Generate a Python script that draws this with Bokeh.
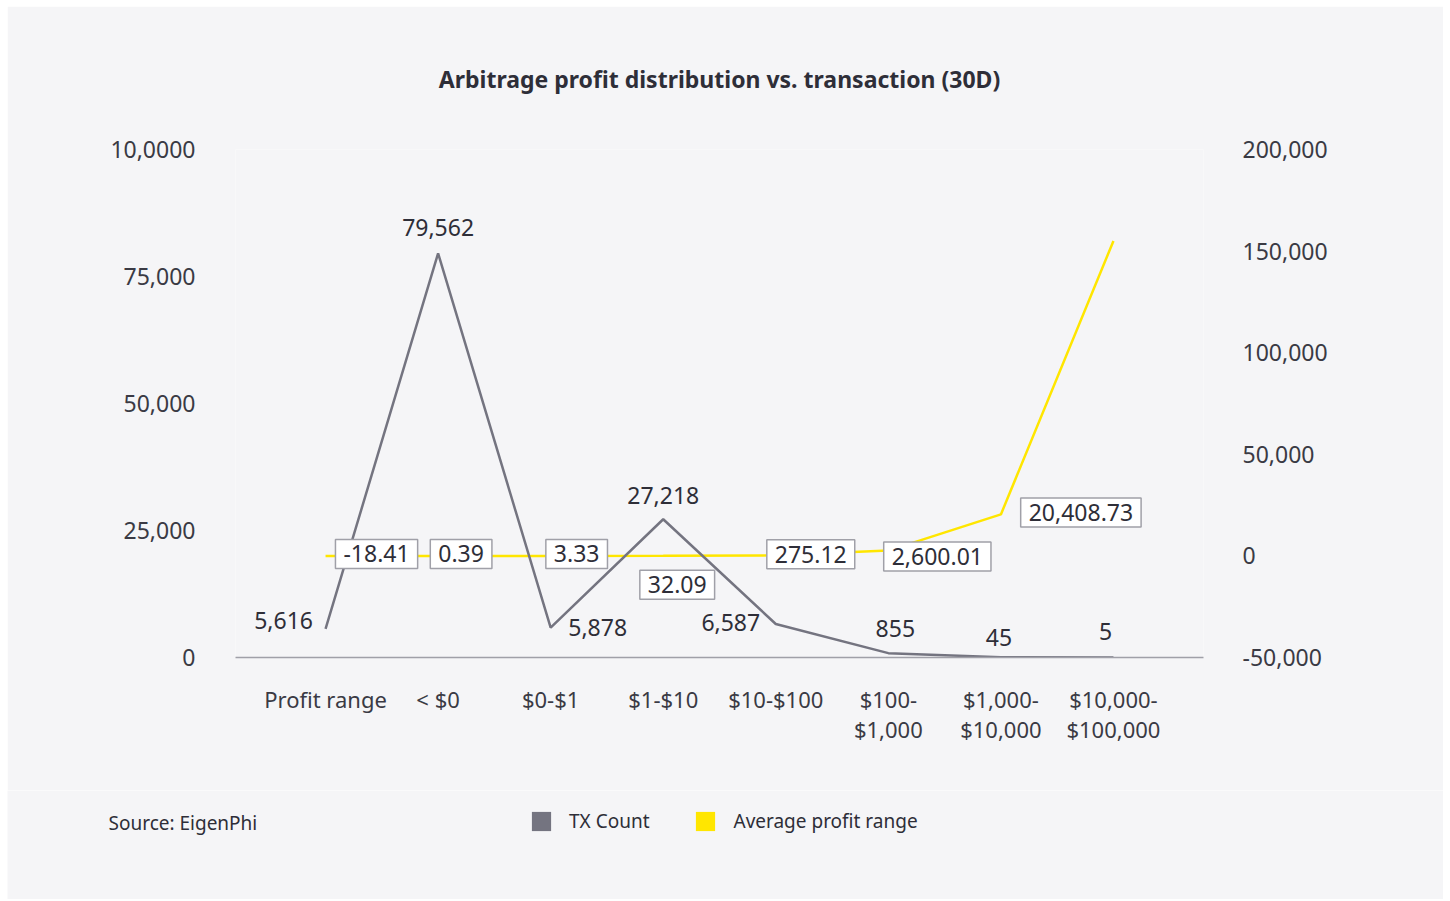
from bokeh.plotting import figure
from bokeh.models import (ColumnDataSource, FactorRange, Range1d, LinearAxis, FixedTicker,
                          NumeralTickFormatter, Label, Legend, LegendItem, Title)
from bokeh.embed import file_html
from bokeh.resources import INLINE
from bokeh.core.properties import value

# ---------------- data ----------------
categories = ["Profit range", "< $0", "$0-$1", "$1-$10", "$10-$100",
              "$100-\n$1,000", "$1,000-\n$10,000", "$10,000-\n$100,000"]
tx_count = [5616, 79562, 5878, 27218, 6587, 855, 45, 5]
avg_profit = [-18.41, 0.39, 3.33, 32.09, 275.12, 2600.01, 20408.73, 155000]
avg_profit_text = ["-18.41", "0.39", "3.33", "32.09", "275.12", "2,600.01", "20,408.73"]
left_ticks = [0, 25000, 50000, 75000, 100000]
right_ticks = [-50000, 0, 50000, 100000, 150000, 200000]
series_names = ["TX Count", "Average profit range"]

# ---------------- style ----------------
FONT = "Noto Sans"
BG = "#f5f5f7"
GREY = "#747480"
YELLOW = "#ffe600"
TEXT = "#2e2e38"
AXIS_TXT = "#3a3a44"

# label offsets (pixels) - layout only
tx_dx = [-42, 0, 47, 0, -45, 7, -2, -8]
tx_dy = [-8, -26, 0, -24, -2, -25, -20, -26]
ap_dx = [51, 23, 26, 14, 35, 49, 80]
ap_dy = [-2, -2, -2, 29, -1, 6, -2]

p = figure(x_range=FactorRange(factors=categories, range_padding=0.075),
           y_range=Range1d(0, 100000),
           width=1436, height=784, margin=(6, 7, 0, 7),
           output_backend="svg", toolbar_location=None,
           min_border_left=228, min_border_right=240,
           min_border_top=143, min_border_bottom=133,
           background_fill_color=BG, border_fill_color=BG,
           outline_line_color=None)
p.extra_y_ranges = {"profit": Range1d(-50000, 200000)}
p.xgrid.visible = False
p.ygrid.visible = False

p.title.text = "Arbitrage profit distribution vs. transaction (30D)"
p.title.align = "center"
p.title.text_font = FONT
p.title.text_font_size = "23px"
p.title.text_font_style = "bold"
p.title.text_color = TEXT
if "standoff" in Title.properties():
    p.title.standoff = 109

# left axis
ya = p.yaxis[0]
ya.ticker = FixedTicker(ticks=left_ticks)
ya.formatter = NumeralTickFormatter(format="0,0")
ya.major_label_overrides = {100000: "10,0000"}
ya.axis_line_color = None
ya.major_tick_line_color = None
ya.minor_tick_line_color = None
ya.major_label_standoff = 34
ya.major_label_text_font = FONT
ya.major_label_text_font_size = "23px"
ya.major_label_text_color = AXIS_TXT

# right axis
ra = LinearAxis(y_range_name="profit", ticker=FixedTicker(ticks=right_ticks),
                formatter=NumeralTickFormatter(format="0,0"),
                axis_line_color=None, major_tick_line_color=None,
                minor_tick_line_color=None, major_label_standoff=33,
                major_label_text_font=FONT, major_label_text_font_size="23px",
                major_label_text_color=AXIS_TXT)
p.add_layout(ra, "right")

# x axis
xa = p.xaxis[0]
xa.axis_line_color = "#a0a0a8"
xa.axis_line_width = 1.5
xa.major_tick_line_color = None
xa.minor_tick_line_color = None
xa.major_label_standoff = 20
xa.major_label_text_font = FONT
xa.major_label_text_font_size = "22px"
xa.major_label_text_color = AXIS_TXT
xa.major_label_text_line_height = 1.0

# lines
p.line(categories, avg_profit, y_range_name="profit", line_color=YELLOW, line_width=2.5)
p.line(categories, tx_count, line_color=GREY, line_width=2.5)

# TX labels
tx_src = ColumnDataSource(dict(x=categories, y=tx_count,
                               t=[f"{v:,}" for v in tx_count], dx=tx_dx, dy=tx_dy))
p.text(x="x", y="y", text="t", x_offset="dx", y_offset="dy", source=tx_src,
       text_align="center", text_baseline="middle", text_font=value(FONT),
       text_font_size="23px", text_color=TEXT)

# avg profit labels (boxed)
ap_src = ColumnDataSource(dict(x=categories[:7], y=avg_profit[:7], t=avg_profit_text,
                               dx=ap_dx, dy=ap_dy))
p.text(x="x", y="y", text="t", x_offset="dx", y_offset="dy", source=ap_src,
       y_range_name="profit",
       text_align="center", text_baseline="middle", text_font=value(FONT),
       text_font_size="23px", text_color=TEXT,
       background_fill_color="white", border_line_color="#a0a0a8", border_line_width=1.5,
       padding=(8, 6))

# ---------------- footer strip: source + legend (separate root) ----------------
f = figure(width=1436, height=109, margin=(0, 7, 2, 7),
           x_range=Range1d(0, 1), y_range=Range1d(0, 1),
           x_axis_location=None, y_axis_location=None,
           output_backend="svg", toolbar_location=None,
           min_border=0, background_fill_color=BG,
           border_fill_color=BG, outline_line_color=None)
f.grid.visible = False
f.add_layout(Label(x=101, y=77, x_units="screen", y_units="screen",
                   text="Source: EigenPhi", text_align="left", text_baseline="middle",
                   text_font=FONT, text_font_size="19px", text_color=TEXT))
# legend swatches (zero-size proxies, only their legend glyph is shown)
r1 = f.quad(left=[0], right=[0], top=[0], bottom=[0], fill_color=GREY, line_color=None)
r2 = f.quad(left=[0], right=[0], top=[0], bottom=[0], fill_color=YELLOW, line_color=None)
legend = Legend(items=[LegendItem(label=series_names[0], renderers=[r1]),
                       LegendItem(label=series_names[1], renderers=[r2])],
                location=(522, 65), orientation="horizontal",
                glyph_width=24, glyph_height=24, label_standoff=16, spacing=44,
                padding=0, margin=0, border_line_color=None, background_fill_alpha=0,
                label_text_font=FONT, label_text_font_size="19px", label_text_color=TEXT)
f.add_layout(legend, "center")

open("out.html", "w").write(file_html([p, f], INLINE))
